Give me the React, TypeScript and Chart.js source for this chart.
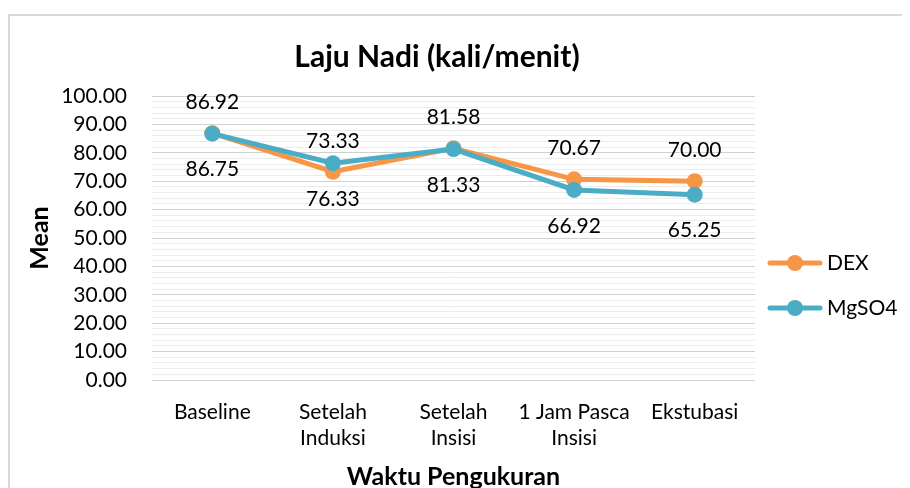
import React, { useEffect, useRef } from 'react';
import { Chart, registerables } from 'chart.js';

Chart.register(...registerables);

const categories: (string | string[])[] = [
  'Baseline',
  ['Setelah', 'Induksi'],
  ['Setelah', 'Insisi'],
  ['1 Jam Pasca', 'Insisi'],
  'Ekstubasi',
];
const dexValues = [86.92, 73.33, 81.58, 70.67, 70.0];
const mgso4Values = [86.75, 76.33, 81.33, 66.92, 65.25];
const seriesNames = ['DEX', 'MgSO4'];
const chartTitle = 'Laju Nadi (kali/menit)';
const xTitle = 'Waktu Pengukuran';
const yTitle = 'Mean';
const yMin = 0;
const yMax = 100;
const yMajorStep = 10;
const yMinorStep = 2;

const FONT = 'Lato, "Noto Sans", sans-serif';
const ORANGE = '#F79646';
const TEAL = '#4BACC6';

export default function App() {
  const ref = useRef<HTMLCanvasElement | null>(null);

  useEffect(() => {
    document.documentElement.style.overflow = 'hidden';
    document.body.style.overflow = 'hidden';
    const canvas = ref.current;
    if (!canvas) return;

    const overlay = {
      id: 'overlay',
      afterDatasetsDraw(chart: any) {
        const ctx = chart.ctx;
        ctx.save();
        // data labels
        ctx.fillStyle = '#000';
        ctx.font = `21px ${FONT}`;
        ctx.textAlign = 'center';
        ctx.textBaseline = 'middle';
        chart.data.datasets.forEach((ds: any, i: number) => {
          const meta = chart.getDatasetMeta(i);
          const off = ds.label === seriesNames[0] ? -31 : 36;
          meta.data.forEach((pt: any, j: number) => {
            ctx.fillText(Number(ds.data[j]).toFixed(2), pt.x, pt.y + off);
          });
        });
        // title
        ctx.font = `bold 30px ${FONT}`;
        ctx.fillText(chartTitle, 429, 49);
        // legend
        const items = [
          { name: seriesNames[0], color: ORANGE, y: 255 },
          { name: seriesNames[1], color: TEAL, y: 300 },
        ];
        items.forEach((it) => {
          ctx.strokeStyle = it.color;
          ctx.lineWidth = 5;
          ctx.lineCap = 'round';
          ctx.beginPath();
          ctx.moveTo(762, it.y);
          ctx.lineTo(812, it.y);
          ctx.stroke();
          ctx.fillStyle = it.color;
          ctx.beginPath();
          ctx.arc(787, it.y, 8, 0, Math.PI * 2);
          ctx.fill();
          ctx.fillStyle = '#000';
          ctx.font = `21px ${FONT}`;
          ctx.textAlign = 'left';
          ctx.fillText(it.name, 819, it.y);
        });
        ctx.restore();
      },
    };

    const chart = new Chart(canvas, {
      type: 'line',
      data: {
        labels: categories as any,
        datasets: [
          {
            label: seriesNames[0],
            data: dexValues,
            borderColor: ORANGE,
            backgroundColor: ORANGE,
            borderWidth: 5,
            pointRadius: 8,
            pointBorderWidth: 0,
            pointBackgroundColor: ORANGE,
            tension: 0,
            order: 2,
          },
          {
            label: seriesNames[1],
            data: mgso4Values,
            borderColor: TEAL,
            backgroundColor: TEAL,
            borderWidth: 5,
            pointRadius: 8,
            pointBorderWidth: 0,
            pointBackgroundColor: TEAL,
            tension: 0,
            order: 1,
          },
        ],
      },
      options: {
        animation: false,
        responsive: false,
        layout: { padding: { left: 0, top: 88, right: 155, bottom: 0 } },
        plugins: {
          legend: { display: false },
          title: { display: false },
          tooltip: { enabled: false },
        },
        scales: {
          x: {
            offset: true,
            grid: { display: false, drawTicks: false },
            border: { display: false },
            ticks: {
              color: '#000',
              font: { family: FONT, size: 21, lineHeight: 1.24 },
              padding: 19,
              maxRotation: 0,
              autoSkip: false,
            },
            title: {
              display: true,
              text: xTitle,
              color: '#000',
              font: { family: FONT, size: 25, weight: 'bold', lineHeight: 1 },
              padding: { top: 0, bottom: -1 },
            },
            afterFit: (s: any) => {
              s.height = 108;
            },
          },
          y: {
            min: yMin,
            max: yMax,
            grid: {
              drawTicks: false,
              color: (c: any) =>
                Math.round(c.tick.value) % yMajorStep === 0 ? '#d0d0d0' : '#ebebeb',
              lineWidth: 1,
            },
            border: { display: false },
            ticks: {
              stepSize: yMinorStep,
              autoSkip: false,
              padding: 25,
              color: '#000',
              font: { family: FONT, size: 21 },
              callback: (v: any) =>
                Math.round(Number(v)) % yMajorStep === 0 ? Number(v).toFixed(2) : '',
            },
            title: {
              display: true,
              text: yTitle,
              color: '#000',
              font: { family: FONT, size: 25, weight: 'bold' },
              padding: { top: 17, bottom: 0 },
            },
            afterFit: (s: any) => {
              s.width = 144;
            },
          },
        },
      },
      plugins: [overlay],
    });

    return () => chart.destroy();
  }, []);

  return (
    <div style={{ position: 'relative', width: 902, height: 480, overflow: 'hidden' }}>
      <div
        style={{
          position: 'absolute',
          left: 0,
          top: 6,
          width: 1000,
          height: 1000,
          border: '2px solid #d9d9d9',
          boxSizing: 'border-box',
        }}
      />
      <canvas ref={ref} width={902} height={480} style={{ position: 'absolute', left: 0, top: 0 }} />
    </div>
  );
}
